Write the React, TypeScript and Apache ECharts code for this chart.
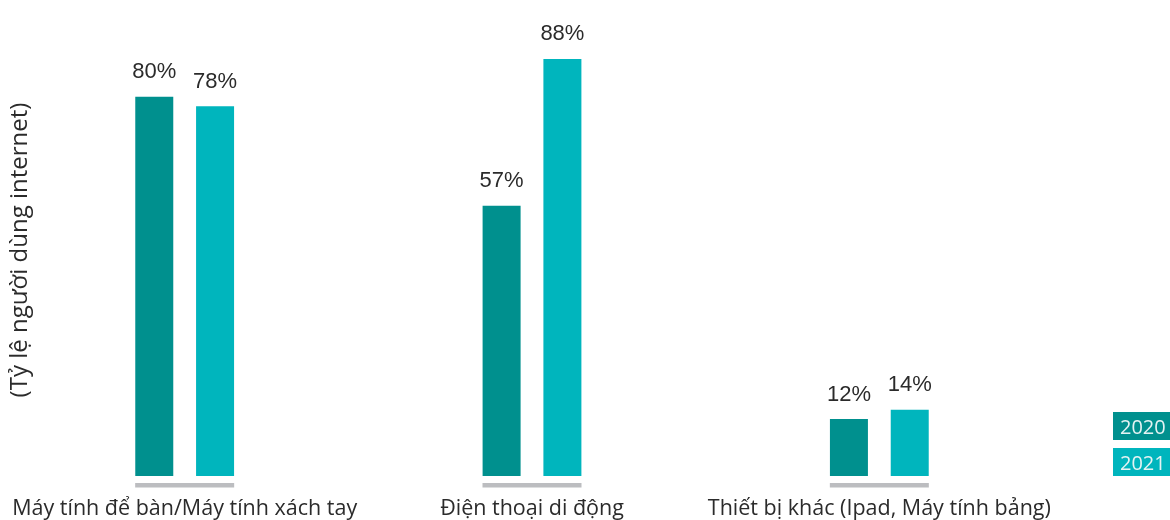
import React, { useEffect, useRef } from "react";
import * as echarts from "echarts";

const categories = [
  "Máy tính để bàn/Máy tính xách tay",
  "Điện thoại di động",
  "Thiết bị khác (Ipad, Máy tính bảng)",
];
const seriesNames = ["2020", "2021"];
const values2020 = [80, 57, 12];
const values2021 = [78, 88, 14];
const colors = ["#00908e", "#00b5bd"];
const yAxisName = "(Tỷ lệ người dùng internet)";

export default function App() {
  const ref = useRef<HTMLDivElement>(null);
  useEffect(() => {
    if (!ref.current) return;
    const chart = echarts.init(ref.current, null, { renderer: "svg" });
    const labelStyle = {
      show: true,
      position: "top",
      distance: 15,
      formatter: "{c}%",
      fontFamily: "Liberation Sans, Arial, sans-serif",
      fontSize: 22,
      color: "#2b2b2b",
    };
    chart.setOption({
      animation: false,
      grid: {
        left: 11,
        right: 117,
        top: 2,
        bottom: 44,
        containLabel: false,
        outerBoundsMode: "none",
      },
      legend: {
        orient: "vertical",
        right: 0,
        top: 412,
        padding: 0,
        itemGap: 8,
        itemWidth: 0,
        itemHeight: 0,
        selectedMode: false,
        data: seriesNames.map((n, i) => ({
          name: n,
          icon: "rect",
          textStyle: {
            backgroundColor: colors[i],
            color: "#e4f3f3",
            fontFamily: "Open Sans, sans-serif",
            fontSize: 20,
            padding: [2, 5, 2, 7],
            lineHeight: 24,
            width: 45,
          },
        })),
      },
      xAxis: {
        type: "category",
        data: categories,
        axisLine: { show: false },
        axisTick: { show: false },
        axisLabel: {
          margin: 19,
          fontFamily: "Open Sans, sans-serif",
          fontSize: 21.5,
          color: "#2b2b2b",
          interval: 0,
        },
      },
      yAxis: {
        type: "value",
        min: 0,
        max: 100,
        axisLine: { show: false },
        axisTick: { show: false },
        axisLabel: { show: false },
        splitLine: { show: false },
        name: yAxisName,
        nameLocation: "middle",
        nameRotate: 90,
        nameGap: -18,
        nameTextStyle: {
          fontFamily: "Open Sans, sans-serif",
          fontSize: 24,
          color: "#2b2b2b",
          padding: [0, 22, 0, 0],
        },
      },
      series: [
        {
          name: seriesNames[0],
          type: "bar",
          data: values2020,
          barWidth: 38,
          barGap: "60%",
          itemStyle: { color: colors[0] },
          label: labelStyle,
        },
        {
          name: seriesNames[1],
          type: "bar",
          data: values2021,
          barWidth: 38,
          barGap: "60%",
          itemStyle: { color: colors[1] },
          label: labelStyle,
        },
        {
          type: "custom",
          silent: true,
          data: categories.map((_, i) => [i, 0]),
          renderItem: (params: any, api: any) => {
            const c = api.coord([api.value(0), 0]);
            return {
              type: "rect",
              shape: { x: c[0] - 49.5, y: c[1] + 7, width: 99, height: 4.5 },
              style: { fill: "#bcbdc0" },
            };
          },
        },
      ],
    });
    return () => chart.dispose();
  }, []);
  return (
    <div
      ref={ref}
      style={{ position: "fixed", left: 0, top: 0, width: 1170, height: 520 }}
    />
  );
}
